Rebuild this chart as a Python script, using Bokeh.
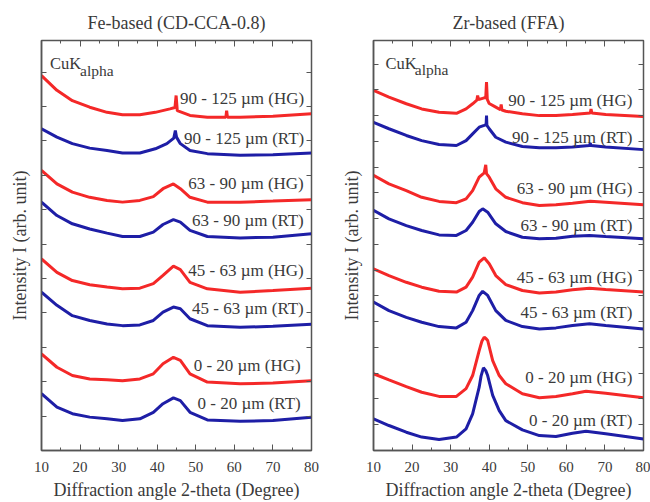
from bokeh.plotting import figure
from bokeh.layouts import row
from bokeh.models import (Range1d, LinearAxis, FixedTicker,
                          ColumnDataSource, CustomJSTickFormatter)
from bokeh.core.properties import value
from bokeh.embed import file_html
from bokeh.resources import INLINE

FONT = "Liberation Serif"
RED = "#f42828"
BLUE = "#1e1ea6"
TXT = "#3a3a3a"
EDGE = "#555555"

# ---------------- Fe-based (CD-CCA-0.8) ----------------
fe_x = [10, 14, 18, 22.5, 27, 31, 35.5, 39, 41.5, 44.2, 46, 48.5, 53, 61.5, 70, 80]
fe_90_hg_x = [10, 14, 18, 22.5, 27, 31, 35.5, 39.5, 43.3, 44.6, 44.9, 45.2, 48.5, 53, 57.8, 58, 58.2, 61.5, 70, 80]
fe_90_hg = [10.90, 10.47, 10.17, 9.98, 9.83, 9.76, 9.76, 9.83, 9.93, 9.97, 10.32, 9.88, 9.74, 9.69, 9.69, 9.88, 9.69, 9.69, 9.72, 9.79]
fe_90_rt_x = [10, 14, 18, 22.5, 27, 31, 35.5, 39.5, 42.5, 44.3, 44.7, 45.0, 46, 48.5, 53, 61.5, 70, 80]
fe_90_rt = [9.35, 9.11, 8.92, 8.79, 8.72, 8.65, 8.65, 8.77, 8.92, 9.08, 9.30, 9.11, 8.92, 8.72, 8.63, 8.58, 8.60, 8.65]
fe_63_hg = [8.14, 7.75, 7.51, 7.36, 7.27, 7.22, 7.27, 7.38, 7.61, 7.75, 7.61, 7.36, 7.22, 7.22, 7.25, 7.29]
fe_63_rt = [7.22, 6.83, 6.59, 6.44, 6.32, 6.22, 6.22, 6.35, 6.57, 6.71, 6.64, 6.40, 6.22, 6.18, 6.20, 6.30]
fe_45_hg = [5.57, 5.18, 4.94, 4.82, 4.75, 4.70, 4.72, 4.85, 5.09, 5.36, 5.26, 4.89, 4.70, 4.60, 4.65, 4.72]
fe_45_rt = [4.60, 4.22, 3.92, 3.78, 3.68, 3.63, 3.65, 3.78, 4.02, 4.17, 4.12, 3.83, 3.63, 3.58, 3.61, 3.67]
fe_0_hg = [2.81, 2.42, 2.18, 2.08, 2.06, 2.03, 2.08, 2.23, 2.52, 2.71, 2.62, 2.23, 1.99, 1.94, 1.96, 2.03]
fe_0_rt = [1.65, 1.26, 1.07, 0.97, 0.92, 0.87, 0.92, 1.11, 1.36, 1.53, 1.45, 1.11, 0.89, 0.85, 0.87, 0.97]

fe_label_text = ["90 - 125 \u00b5m (HG)", "90 - 125 \u00b5m (RT)", "63 - 90 \u00b5m (HG)", "63 - 90 \u00b5m (RT)",
                 "45 - 63 \u00b5m (HG)", "45 - 63 \u00b5m (RT)", "0 - 20 \u00b5m (HG)", "0 - 20 \u00b5m (RT)"]
fe_label_x = [78.1, 78.1, 78.0, 78.0, 78.0, 78.0, 77.2, 77.2]
fe_label_y = [10.22, 9.07, 7.75, 6.69, 5.23, 4.12, 2.47, 1.36]

# ---------------- Zr-based (FFA) ----------------
zr_90_hg_x = [10, 14, 18.5, 22.5, 27, 31.5, 34, 35.7, 36.8, 37.0, 37.2, 38.7, 39.1, 39.3, 39.5, 40.0, 41.7, 42.9, 43.1, 43.3, 44.3, 48.6, 53, 57.3, 61.6, 66.2, 66.4, 66.6, 70.2, 80]
zr_90_hg = [13.98, 13.72, 13.46, 13.26, 13.13, 13.09, 13.26, 13.46, 13.60, 13.78, 13.62, 13.69, 13.70, 14.30, 13.63, 13.47, 13.33, 13.23, 13.43, 13.22, 13.17, 13.07, 13.00, 13.00, 13.04, 13.10, 13.26, 13.10, 13.04, 12.97]
zr_90_rt_x = [10, 14, 18.5, 22.5, 27, 31.5, 34, 35.7, 37.4, 38.7, 39.2, 39.3, 39.4, 40.0, 41.7, 44.3, 48.6, 53, 57.3, 61.6, 66.0, 66.2, 66.4, 70.2, 80]
zr_90_rt = [12.74, 12.49, 12.23, 12.03, 11.88, 11.84, 12.03, 12.29, 12.55, 12.62, 12.65, 13.00, 12.62, 12.49, 12.16, 11.97, 11.80, 11.75, 11.75, 11.78, 11.84, 11.93, 11.84, 11.78, 11.68]
zr_63_hg_x = [10, 14, 18.5, 22.5, 27, 31.5, 34, 35.7, 37.4, 38.7, 39.1, 39.3, 40.0, 41.7, 44.3, 48.6, 53, 57.3, 61.6, 66.2, 70.2, 80]
zr_63_hg = [10.68, 10.35, 10.09, 9.83, 9.67, 9.62, 9.77, 10.09, 10.61, 10.78, 11.09, 10.75, 10.61, 10.16, 9.83, 9.62, 9.51, 9.54, 9.60, 9.68, 9.64, 9.54]
zr_63_rt_x = [10, 14, 18.5, 22.5, 27, 31.5, 34, 35.7, 37.4, 38.3, 39.6, 41.7, 44.3, 48.6, 53, 57.3, 61.6, 66, 70.2, 80]
zr_63_rt = [9.32, 8.99, 8.73, 8.54, 8.37, 8.35, 8.54, 8.86, 9.28, 9.38, 9.25, 8.80, 8.50, 8.28, 8.22, 8.24, 8.32, 8.35, 8.31, 8.22]
zr_45_hg_x = [10, 14, 18.5, 22.5, 27, 31.5, 34, 35.7, 37.4, 38.7, 40, 41.7, 44.3, 48.6, 53, 57.3, 61.6, 66, 70.2, 80]
zr_45_hg = [7.05, 6.79, 6.53, 6.34, 6.18, 6.15, 6.34, 6.73, 7.31, 7.48, 7.25, 6.79, 6.44, 6.21, 6.11, 6.15, 6.24, 6.30, 6.25, 6.15]
zr_45_rt_x = [10, 14, 18.5, 22.5, 27, 31.5, 34, 35.7, 37.4, 38.3, 39.6, 41.7, 44.3, 48.6, 53, 57.3, 61.6, 66, 70.2, 80]
zr_45_rt = [5.76, 5.43, 5.17, 4.98, 4.81, 4.76, 4.98, 5.43, 6.02, 6.18, 6.02, 5.43, 5.05, 4.81, 4.72, 4.76, 4.85, 4.92, 4.85, 4.72]
zr_0_hg_x = [10, 14, 18.5, 22.5, 27, 31.5, 34, 35.7, 37.4, 38.1, 38.7, 39.2, 39.6, 40.9, 42.6, 44.3, 48.6, 53, 57.3, 61.6, 65.1, 70.2, 80]
zr_0_hg = [2.98, 2.74, 2.48, 2.26, 2.10, 2.10, 2.40, 2.91, 3.88, 4.24, 4.40, 4.34, 4.27, 3.49, 2.91, 2.59, 2.20, 2.05, 2.10, 2.20, 2.30, 2.22, 2.05]
zr_0_rt_x = [10, 14, 18.5, 22.5, 27, 31.5, 34, 35.7, 37.4, 37.9, 38.5, 39.1, 39.6, 40.9, 42.6, 44.3, 48.6, 53, 57.3, 61.6, 65.1, 70.2, 80]
zr_0_rt = [1.23, 0.97, 0.71, 0.52, 0.43, 0.52, 0.84, 1.42, 2.46, 2.90, 3.21, 3.10, 2.91, 2.14, 1.55, 1.16, 0.80, 0.58, 0.54, 0.67, 0.75, 0.65, 0.45]

zr_label_text = fe_label_text
zr_label_x = [77.1, 77.1, 77.1, 77.1, 77.1, 77.1, 77.1, 77.1]
zr_label_y = [13.59, 12.16, 10.16, 8.73, 6.73, 5.37, 2.85, 1.16]

x_ticks_major = [10, 20, 30, 40, 50, 60, 70, 80]
x_ticks_minor = [5, 15, 25, 35, 45, 55, 65, 75, 85]
fe_y_ticks = [1, 2, 3, 4, 5, 6, 7, 8, 9, 10, 11]
zr_y_ticks = [1, 2, 3, 4, 5, 6, 7, 8, 9, 10, 11, 12, 13, 14, 15]


def make_panel(title, curves, lab_x, lab_y, lab_text, y_max, y_ticks,
               width, b_left, b_right, t_offset, cuk_pos):
    p = figure(width=width, height=502, x_range=Range1d(10, 80), y_range=Range1d(0, y_max),
               output_backend="svg", toolbar_location=None,
               min_border_left=b_left, min_border_right=b_right,
               min_border_top=40, min_border_bottom=52, title=title)
    p.title.align = "center"
    p.title.offset = t_offset
    p.title.text_font = FONT
    p.title.text_font_size = "18px"
    p.title.text_font_style = "normal"
    p.title.text_color = TXT
    p.title.standoff = 15
    p.xgrid.visible = False
    p.ygrid.visible = False
    p.outline_line_color = EDGE
    p.outline_line_width = 1.5
    p.background_fill_color = "white"
    p.border_fill_color = "white"

    blank = CustomJSTickFormatter(code="return ''")

    # bottom axis
    xa = p.xaxis[0]
    xa.ticker = FixedTicker(ticks=x_ticks_major, minor_ticks=x_ticks_minor)
    xa.major_tick_in = 6
    xa.major_tick_out = 0
    xa.minor_tick_in = 3
    xa.minor_tick_out = 0
    xa.axis_line_color = EDGE
    xa.axis_line_width = 1.5
    xa.major_tick_line_color = EDGE
    xa.minor_tick_line_color = EDGE
    xa.major_label_text_font = FONT
    xa.major_label_text_font_size = "15px"
    xa.major_label_text_color = TXT
    xa.major_label_standoff = 11
    xa.axis_label = "Diffraction angle 2-theta (Degree)"
    xa.axis_label_text_font = FONT
    xa.axis_label_text_font_size = "18px"
    xa.axis_label_text_font_style = "normal"
    xa.axis_label_text_color = TXT
    xa.axis_label_standoff = 5

    # top mirror axis
    ta = LinearAxis(ticker=FixedTicker(ticks=x_ticks_major, minor_ticks=x_ticks_minor),
                    formatter=blank, major_tick_in=6, major_tick_out=0,
                    minor_tick_in=3, minor_tick_out=0, axis_line_color=EDGE,
                    major_tick_line_color=EDGE, minor_tick_line_color=EDGE,
                    major_label_standoff=0)
    p.add_layout(ta, "above")

    # left axis
    ya = p.yaxis[0]
    ya.ticker = FixedTicker(ticks=y_ticks)
    ya.formatter = blank
    ya.major_tick_in = 5
    ya.major_tick_out = 0
    ya.minor_tick_line_color = None
    ya.axis_line_color = EDGE
    ya.axis_line_width = 1.5
    ya.major_tick_line_color = EDGE
    ya.major_label_standoff = 0
    ya.axis_label = "Intensity I (arb. unit)"
    ya.axis_label_text_font = FONT
    ya.axis_label_text_font_size = "18px"
    ya.axis_label_text_font_style = "normal"
    ya.axis_label_text_color = TXT
    ya.axis_label_standoff = 12

    # right mirror axis
    ra = LinearAxis(ticker=FixedTicker(ticks=y_ticks), formatter=blank,
                    major_tick_in=5, major_tick_out=0, minor_tick_line_color=None,
                    axis_line_color=EDGE, major_tick_line_color=EDGE, major_label_standoff=0)
    p.add_layout(ra, "right")

    for (cx, cy, col) in curves:
        p.line(cx, cy, line_color=col, line_width=3)

    src = ColumnDataSource(dict(x=lab_x, y=lab_y, t=lab_text))
    p.text(x="x", y="y", text="t", source=src, text_align="right", text_baseline="middle",
           text_font=value(FONT), text_font_size="17px", text_color=TXT)

    # CuK_alpha label
    p.text(x=[cuk_pos[0]], y=[cuk_pos[1]], text=["CuK"], text_align="left",
           text_baseline="alphabetic", text_font=value(FONT), text_font_size="16.5px", text_color=TXT)
    p.text(x=[cuk_pos[2]], y=[cuk_pos[3]], text=["alpha"], text_align="left",
           text_baseline="alphabetic", text_font=value(FONT), text_font_size="15.5px", text_color=TXT)
    return p


fe_curves = [
    (fe_90_hg_x, fe_90_hg, RED), (fe_90_rt_x, fe_90_rt, BLUE),
    (fe_x, fe_63_hg, RED), (fe_x, fe_63_rt, BLUE),
    (fe_x, fe_45_hg, RED), (fe_x, fe_45_rt, BLUE),
    (fe_x, fe_0_hg, RED), (fe_x, fe_0_rt, BLUE),
]
zr_curves = [
    (zr_90_hg_x, zr_90_hg, RED), (zr_90_rt_x, zr_90_rt, BLUE),
    (zr_63_hg_x, zr_63_hg, RED), (zr_63_rt_x, zr_63_rt, BLUE),
    (zr_45_hg_x, zr_45_hg, RED), (zr_45_rt_x, zr_45_rt, BLUE),
    (zr_0_hg_x, zr_0_hg, RED), (zr_0_rt_x, zr_0_rt, BLUE),
]

p1 = make_panel("Fe-based (CD-CCA-0.8)", fe_curves, fe_label_x, fe_label_y, fe_label_text,
                410 / 34.4, fe_y_ticks, 331, 41, 20, 10, (12.2, 11.25, 20.0, 11.06))
p2 = make_panel("Zr-based (FFA)", zr_curves, zr_label_x, zr_label_y, zr_label_text,
                410 / 25.76, zr_y_ticks, 319, 42, 7, 6, (13.1, 15.02, 20.7, 14.78))

layout = row(p1, p2)
open("out.html", "w").write(file_html(layout, INLINE))
